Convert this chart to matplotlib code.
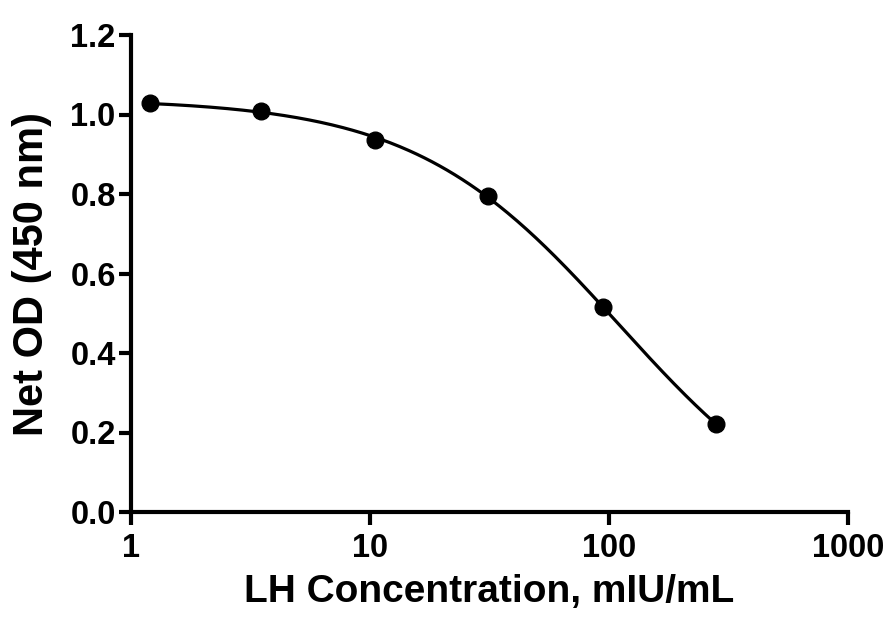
import numpy as np
import matplotlib
matplotlib.use("Agg")
import matplotlib.pyplot as plt
from matplotlib.ticker import FixedLocator, NullLocator

# Data
conc = np.array([1.2, 3.5, 10.5, 31.3, 94.0, 280.0])
od = np.array([1.028, 1.008, 0.937, 0.795, 0.515, 0.222])
x_ticks = [1, 10, 100, 1000]
x_tick_labels = ["1", "10", "100", "1000"]
y_ticks = [0.0, 0.2, 0.4, 0.6, 0.8, 1.0, 1.2]
y_tick_labels = ["0.0", "0.2", "0.4", "0.6", "0.8", "1.0", "1.2"]


def model(p, lx):
    top, bottom, logec, hill = p
    return bottom + (top - bottom) / (1 + 10 ** ((lx - logec) * hill))


# 4-parameter logistic fit to the data points (Levenberg-Marquardt)
lx = np.log10(conc)
p = np.array([1.03, 0.0, 2.0, 1.0])
lam = 1e-3
for _ in range(500):
    r = od - model(p, lx)
    J = np.zeros((len(lx), 4))
    for k in range(4):
        dp = np.zeros(4)
        dp[k] = 1e-6
        J[:, k] = (model(p + dp, lx) - model(p, lx)) / 1e-6
    A = J.T @ J
    step = np.linalg.solve(A + lam * np.diag(np.diag(A)), J.T @ r)
    pn = p + step
    if np.sum((od - model(pn, lx)) ** 2) < np.sum(r ** 2):
        p = pn
        lam *= 0.5
    else:
        lam *= 5

xs = np.logspace(lx.min(), lx.max(), 300)
ys = model(p, np.log10(xs))

plt.rcParams['font.family'] = ['Liberation Sans', 'DejaVu Sans']
plt.rcParams['font.weight'] = 'bold'

fig = plt.figure(figsize=(8.92, 6.21), dpi=100)
ax = fig.add_axes([131 / 892, 1 - 512 / 621, (848 - 131) / 892, (512 - 35) / 621])
ax.set_xscale('log')
ax.plot(xs, ys, color='black', lw=2.3, zorder=2)
ax.plot(conc, od, 'o', color='black', ms=12, zorder=3, clip_on=False)

ax.set_xlim(1, 1000)
ax.set_ylim(0, 1.2)
ax.xaxis.set_major_locator(FixedLocator(x_ticks))
ax.xaxis.set_minor_locator(NullLocator())
ax.set_xticklabels(x_tick_labels)
ax.set_yticks(y_ticks)
ax.set_yticklabels(y_tick_labels)

for s in ['top', 'right']:
    ax.spines[s].set_visible(False)
for s in ['left', 'bottom']:
    ax.spines[s].set_linewidth(3)
ax.tick_params(axis='both', width=3, length=9, labelsize=23.5, direction='out')
ax.tick_params(axis='x', pad=6)
ax.tick_params(axis='y', pad=2)
for lab in ax.get_xticklabels() + ax.get_yticklabels():
    lab.set_fontweight('bold')

ax.set_xlabel('LH Concentration, mIU/mL', fontsize=28, fontweight='bold', labelpad=7)
ax.set_ylabel('Net OD (450 nm)', fontsize=30, fontweight='bold', labelpad=13)

fig.savefig('out.png', dpi=100, facecolor='white')
